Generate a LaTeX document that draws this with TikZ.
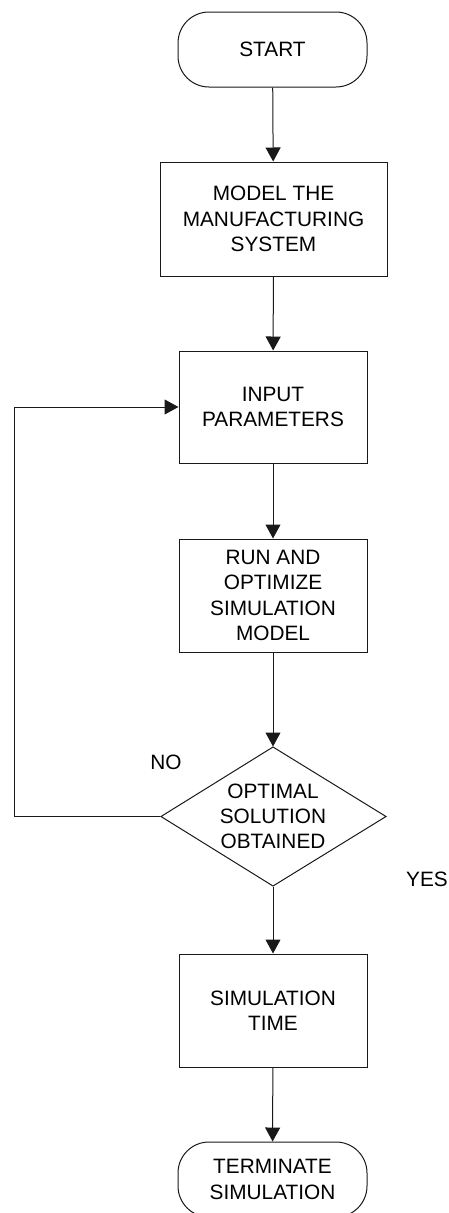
\documentclass[tikz,border=0pt]{standalone}
\usepackage{fontspec}
\setmainfont{Liberation Sans}
\usetikzlibrary{arrows.meta}

\begin{document}
\begin{tikzpicture}[x=1pt,y=-1pt,
  line width=1pt,
  every node/.style={font=\fontsize{20.8}{25.2}\selectfont, align=center, inner sep=0pt},
  terminal/.style={draw=black!90, rounded corners=31pt, minimum width=189pt, minimum height=75pt},
  process/.style={draw=black!90, minimum width=188pt, minimum height=113pt},
  arr/.style={draw=black!90, -{Triangle[width=15pt,length=14pt]}},
  lbl/.style={font=\fontsize{20.8}{25.2}\selectfont}
]
\useasboundingbox (0,0) rectangle (449,1213);
\clip (0,0) rectangle (449,1213);

% flowchart nodes
\node[terminal] (start) at (272.5,49.5) {START};
\node[process, minimum width=227pt, minimum height=114pt] (model) at (273.5,219) {MODEL THE\\MANUFACTURING\\SYSTEM};
\node[process, minimum height=112pt] (input) at (273,407) {INPUT\\PARAMETERS};
\node[process] (run) at (273,595.5) {RUN AND\\OPTIMIZE\\SIMULATION\\MODEL};
\draw[draw=black!90] (161,816.5) -- (273,747) -- (386,816.5) -- (273,886) -- cycle;
\node[minimum width=225pt, minimum height=139pt] (check) at (273,816.5) {OPTIMAL\\SOLUTION\\OBTAINED};
\node[process] (simtime) at (273,1010.5) {SIMULATION\\TIME};
\node[terminal] (stop) at (272.5,1179.5) {TERMINATE\\SIMULATION};

% branch labels
\node[lbl] (no) at (166,762) {NO};
\node[lbl] (yes) at (427,879) {YES};

% connectors
\coordinate (loopcorner) at (14,816.5);
\draw[arr] (start) -- (model);
\draw[arr] (model) -- (input);
\draw[arr] (input) -- (run);
\draw[arr] (run) -- (check.north);
\draw[arr] (check.south) -- (simtime);
\draw[arr] (simtime) -- (stop);
\draw[arr] (check.west) -- (loopcorner) |- (input.west);
\end{tikzpicture}
\end{document}
